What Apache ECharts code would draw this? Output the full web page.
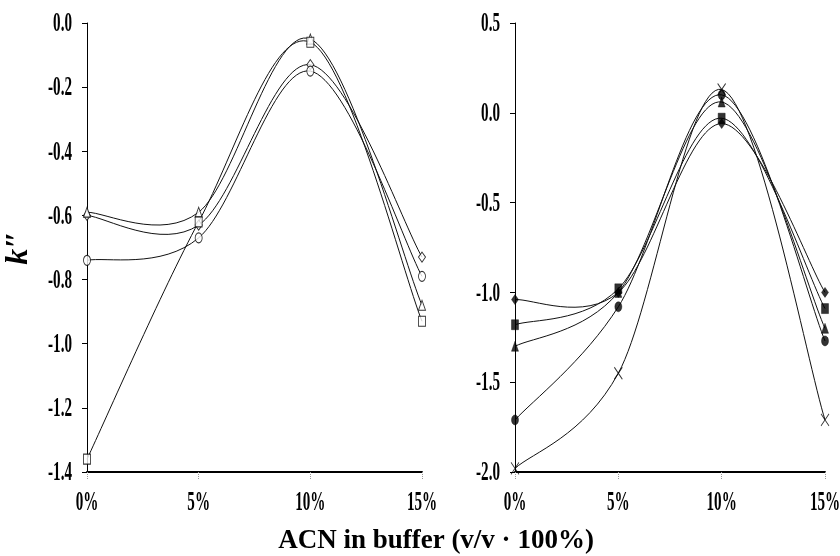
<!DOCTYPE html>
<html>
<head>
<meta charset="utf-8">
<script src="https://cdn.jsdelivr.net/npm/echarts@6/dist/echarts.min.js"></script>
<style>
  html, body { margin: 0; padding: 0; background: #fff; }
  #chart { width: 840px; height: 556px; }
</style>
</head>
<body>
<div id="chart"></div>
<script>
// ACN content of the buffer (%), shared by both panels
const acn = [0, 5, 10, 15];
const xTicks = [0, 5, 10, 15];
const leftYTicks = [0, -0.2, -0.4, -0.6, -0.8, -1.0, -1.2, -1.4];
const rightYTicks = [0.5, 0, -0.5, -1.0, -1.5, -2.0];

// left panel (open markers)
const openDiamond  = [-0.60, -0.63, -0.13, -0.73];
const openCircle   = [-0.74, -0.67, -0.15, -0.79];
const openTriangle = [-0.59, -0.59, -0.05, -0.88];
const openSquare   = [-1.36, -0.62, -0.06, -0.93];

// right panel (filled markers)
const fillDiamond  = [-1.04, -1.00, -0.06, -1.00];
const fillSquare   = [-1.18, -0.98, -0.03, -1.09];
const fillTriangle = [-1.30, -1.00, 0.06, -1.20];
const fillCircle   = [-1.71, -1.08, 0.10, -1.27];
const cross        = [-1.98, -1.45, 0.13, -1.71];

const FONT = '"Liberation Serif", "Times New Roman", serif';
const ELLIPSE = 'path://M0,5A3.5,5,0,1,1,7,5A3.5,5,0,1,1,0,5Z';
const CROSS = 'path://M0,0L8,12M8,0L0,12';

const chart = echarts.init(document.getElementById('chart'), null, { renderer: 'canvas' });

// smoothed curve through the points (Catmull-Rom as cubic Bezier segments)
function curve(gi, values) {
  return {
    type: 'custom', xAxisIndex: gi, yAxisIndex: gi, silent: true, z: 2,
    data: acn.map((x, i) => [x, values[i]]),
    renderItem(params, api) {
      if (params.dataIndex !== 0) return null;
      const p = acn.map((x, i) => api.coord([x, values[i]]));
      let d = 'M' + p[0][0] + ',' + p[0][1];
      for (let i = 0; i < p.length - 1; i++) {
        const a = p[i - 1] || p[i], b = p[i], c = p[i + 1], e = p[i + 2] || p[i + 1];
        const c1 = [b[0] + (c[0] - a[0]) / 6, b[1] + (c[1] - a[1]) / 6];
        const c2 = [c[0] - (e[0] - b[0]) / 6, c[1] - (e[1] - b[1]) / 6];
        d += ' C' + c1.join(',') + ' ' + c2.join(',') + ' ' + c.join(',');
      }
      return {
        type: 'path',
        shape: { pathData: d },
        style: { stroke: '#111', fill: 'none', lineWidth: 1 }
      };
    }
  };
}

function markers(gi, values, symbol, filled, size) {
  return {
    type: 'scatter', xAxisIndex: gi, yAxisIndex: gi, silent: true, z: 5,
    data: acn.map((x, i) => [x, values[i]]),
    symbol: symbol, symbolSize: size || [7, 10],
    itemStyle: filled === 'line'
      ? { color: 'rgba(0,0,0,0)', borderColor: '#000', borderWidth: 1 }
      : filled
        ? { color: '#000', borderColor: '#000', borderWidth: 0.5 }
        : { color: '#fff', borderColor: '#000', borderWidth: 1 }
  };
}

function xAxis(gi) {
  return {
    gridIndex: gi, type: 'value', min: 0, max: 15, interval: 5,
    axisLine: { onZero: false, lineStyle: { color: '#000', width: 2 } },
    axisTick: { show: true, length: 8, lineStyle: { color: '#999', type: 'dotted', width: 1 } },
    axisLabel: { show: false },
    splitLine: { show: false }
  };
}

function yAxis(gi, min, max, interval) {
  return {
    gridIndex: gi, type: 'value', min: min, max: max, interval: interval,
    axisLine: { show: true, onZero: false, lineStyle: { color: '#000', width: 1 } },
    axisTick: { show: true, length: 5, lineStyle: { color: '#000', width: 1 } },
    axisLabel: { show: false },
    splitLine: { show: false }
  };
}

chart.setOption({
  backgroundColor: '#fff',
  animation: false,
  grid: [
    { left: 87, top: 23, width: 335, height: 449 },
    { left: 515, top: 23, width: 310, height: 449 }
  ],
  xAxis: [xAxis(0), xAxis(1)],
  yAxis: [yAxis(0, -1.4, 0, 0.2), yAxis(1, -2, 0.5, 0.5)],
  series: [
    curve(0, openDiamond), curve(0, openCircle), curve(0, openTriangle), curve(0, openSquare),
    markers(0, openDiamond, 'diamond', false),
    markers(0, openCircle, ELLIPSE, false),
    markers(0, openTriangle, 'triangle', false),
    markers(0, openSquare, 'rect', false),

    curve(1, fillDiamond), curve(1, fillSquare), curve(1, fillTriangle), curve(1, fillCircle), curve(1, cross),
    markers(1, fillDiamond, 'diamond', true),
    markers(1, fillSquare, 'rect', true),
    markers(1, fillTriangle, 'triangle', true),
    markers(1, fillCircle, ELLIPSE, true),
    markers(1, cross, CROSS, 'line', [8, 12])
  ]
});

// tick labels and axis titles in a narrow bold serif
const labelStyle = (text, align) => ({
  text: text, font: 'bold 28px ' + FONT, fill: '#000', align: align, verticalAlign: 'middle'
});
const graphics = [];
[[0, leftYTicks, -1.4, 1], [1, rightYTicks, -2, 1]].forEach(([g, ticks, yMin, dec]) => {
  ticks.forEach(v => {
    const [px, py] = chart.convertToPixel({ gridIndex: g }, [0, v]);
    graphics.push({ type: 'text', x: px - 15, y: py + 1, scaleX: 0.54, style: labelStyle(v.toFixed(dec), 'right') });
  });
  xTicks.forEach(v => {
    const [px, py] = chart.convertToPixel({ gridIndex: g }, [v, yMin]);
    graphics.push({ type: 'text', x: px, y: py + 31, scaleX: 0.54, style: labelStyle(v + '%', 'center') });
  });
});
graphics.push({
  type: 'text', x: 436, y: 541,
  style: { text: 'ACN in buffer (v/v \u00b7 100%)', font: 'bold 27px ' + FONT, fill: '#000', align: 'center', verticalAlign: 'middle' }
});
graphics.push({
  type: 'text', x: 19, y: 248, rotation: Math.PI / 2,
  style: { text: 'k\u2033', font: 'italic bold 32px ' + FONT, fill: '#000', align: 'center', verticalAlign: 'middle' }
});
chart.setOption({ graphic: graphics });
</script>
</body>
</html>
